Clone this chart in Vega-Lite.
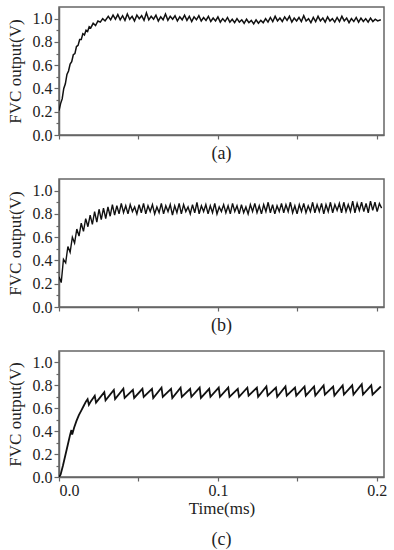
{
"$schema": "https://vega.github.io/schema/vega-lite/v6.json",
"padding": {"top": 6, "left": 5, "right": 5, "bottom": 0},
"spacing": 14,
"datasets": {
"a": [
{"t":0.0000,"v":0.21},{"t":0.0010,"v":0.27},{"t":0.0020,"v":0.31},{"t":0.0030,"v":0.40},{"t":0.0040,"v":0.44},{"t":0.0050,"v":0.52},{"t":0.0060,"v":0.55},{"t":0.0070,"v":0.61},{"t":0.0080,"v":0.63},{"t":0.0090,"v":0.69},{"t":0.0100,"v":0.70},{"t":0.0110,"v":0.76},{"t":0.0120,"v":0.77},{"t":0.0130,"v":0.82},{"t":0.0140,"v":0.82},{"t":0.0150,"v":0.87},{"t":0.0160,"v":0.86},{"t":0.0170,"v":0.90},{"t":0.0180,"v":0.89},{"t":0.0190,"v":0.93},{"t":0.0200,"v":0.92},{"t":0.0215,"v":0.96},{"t":0.0230,"v":0.94},{"t":0.0245,"v":0.98},{"t":0.0260,"v":0.97},{"t":0.0275,"v":1.0},{"t":0.0290,"v":0.98},
{"t":0.0310,"v":1.02},{"t":0.0325,"v":0.99},{"t":0.0340,"v":1.03},{"t":0.0355,"v":0.995},{"t":0.0370,"v":1.035},{"t":0.0385,"v":0.99},{"t":0.0400,"v":1.025},{"t":0.0415,"v":0.985},{"t":0.0430,"v":1.04},{"t":0.0445,"v":0.995},{"t":0.0460,"v":1.02},{"t":0.0475,"v":0.98},{"t":0.0490,"v":1.03},{"t":0.0505,"v":1.0},{"t":0.0520,"v":1.025},{"t":0.0535,"v":0.985},{"t":0.0550,"v":1.05},{"t":0.0565,"v":0.99},{"t":0.0580,"v":1.02},{"t":0.0595,"v":0.995},{"t":0.0610,"v":1.03},{"t":0.0625,"v":0.98},{"t":0.0640,"v":1.015},{"t":0.0655,"v":0.99},{"t":0.0670,"v":1.04},{"t":0.0685,"v":0.985},{"t":0.0700,"v":1.02},{"t":0.0715,"v":0.995},{"t":0.0730,"v":1.025},{"t":0.0745,"v":0.98},{"t":0.0760,"v":1.015},{"t":0.0775,"v":0.99},{"t":0.0790,"v":1.03},{"t":0.0805,"v":0.985},{"t":0.0820,"v":1.02},{"t":0.0835,"v":0.975},{"t":0.0850,"v":1.015},{"t":0.0865,"v":0.99},{"t":0.0880,"v":1.025},{"t":0.0895,"v":0.98},{"t":0.0910,"v":1.01},{"t":0.0925,"v":0.985},{"t":0.0940,"v":1.02},{"t":0.0955,"v":0.975},{"t":0.0970,"v":1.005},{"t":0.0985,"v":0.98},{"t":0.1000,"v":1.015},{"t":0.1015,"v":0.97},{"t":0.1030,"v":1.0},{"t":0.1045,"v":0.975},{"t":0.1060,"v":1.01},{"t":0.1075,"v":0.97},{"t":0.1090,"v":0.995},{"t":0.1105,"v":0.965},{"t":0.1120,"v":1.0},{"t":0.1135,"v":0.97},{"t":0.1150,"v":0.99},{"t":0.1165,"v":0.96},{"t":0.1180,"v":0.995},{"t":0.1195,"v":0.965},{"t":0.1210,"v":0.985},{"t":0.1225,"v":0.955},{"t":0.1240,"v":0.99},{"t":0.1255,"v":0.96},{"t":0.1270,"v":0.985},{"t":0.1285,"v":0.965},{"t":0.1300,"v":1.0},{"t":0.1315,"v":0.97},{"t":0.1330,"v":1.01},{"t":0.1345,"v":0.975},{"t":0.1360,"v":1.02},{"t":0.1375,"v":0.98},{"t":0.1390,"v":1.005},{"t":0.1405,"v":0.975},{"t":0.1420,"v":1.015},{"t":0.1435,"v":0.985},{"t":0.1450,"v":1.02},{"t":0.1465,"v":0.97},{"t":0.1480,"v":1.005},{"t":0.1495,"v":0.98},{"t":0.1510,"v":1.01},{"t":0.1525,"v":0.975},{"t":0.1540,"v":1.025},{"t":0.1555,"v":0.98},{"t":0.1570,"v":1.0},{"t":0.1585,"v":0.965},{"t":0.1600,"v":1.01},{"t":0.1615,"v":0.975},{"t":0.1630,"v":1.02},{"t":0.1645,"v":0.98},{"t":0.1660,"v":1.005},{"t":0.1675,"v":0.97},{"t":0.1690,"v":1.015},{"t":0.1705,"v":0.98},{"t":0.1720,"v":1.0},{"t":0.1735,"v":0.97},{"t":0.1750,"v":1.01},{"t":0.1765,"v":0.975},{"t":0.1780,"v":1.02},{"t":0.1795,"v":0.98},{"t":0.1810,"v":1.005},{"t":0.1825,"v":0.965},{"t":0.1840,"v":1.0},{"t":0.1855,"v":0.975},{"t":0.1870,"v":1.01},{"t":0.1885,"v":0.97},{"t":0.1900,"v":1.005},{"t":0.1915,"v":0.975},{"t":0.1930,"v":1.0},{"t":0.1945,"v":0.97},{"t":0.1960,"v":1.005},{"t":0.1975,"v":0.975},{"t":0.1990,"v":0.995},{"t":0.2005,"v":0.98},{"t":0.2025,"v":0.99}
],
"b": [
{"t":0.0000,"v":0.26},{"t":0.0014,"v":0.21},{"t":0.0028,"v":0.41},{"t":0.0042,"v":0.38},{"t":0.0056,"v":0.52},{"t":0.0070,"v":0.47},{"t":0.0084,"v":0.60},{"t":0.0098,"v":0.55},{"t":0.0112,"v":0.67},{"t":0.0126,"v":0.61},{"t":0.0140,"v":0.72},{"t":0.0154,"v":0.65},{"t":0.0168,"v":0.76},{"t":0.0182,"v":0.69},{"t":0.0196,"v":0.79},{"t":0.0210,"v":0.71},{"t":0.0224,"v":0.82},{"t":0.0238,"v":0.73},{"t":0.0252,"v":0.84},{"t":0.0266,"v":0.75},{"t":0.0280,"v":0.85},{"t":0.0294,"v":0.76},{"t":0.0308,"v":0.86},{"t":0.0322,"v":0.78},{"t":0.0336,"v":0.88},{"t":0.0350,"v":0.79},
{"t":0.0364,"v":0.87},{"t":0.0378,"v":0.80},{"t":0.0392,"v":0.89},{"t":0.0406,"v":0.81},{"t":0.0420,"v":0.87},{"t":0.0434,"v":0.80},{"t":0.0448,"v":0.88},{"t":0.0462,"v":0.82},{"t":0.0476,"v":0.86},{"t":0.0490,"v":0.80},{"t":0.0504,"v":0.88},{"t":0.0518,"v":0.81},{"t":0.0532,"v":0.89},{"t":0.0546,"v":0.80},{"t":0.0560,"v":0.87},{"t":0.0574,"v":0.82},{"t":0.0588,"v":0.88},{"t":0.0602,"v":0.80},{"t":0.0616,"v":0.86},{"t":0.0630,"v":0.81},{"t":0.0644,"v":0.89},{"t":0.0658,"v":0.80},{"t":0.0672,"v":0.87},{"t":0.0686,"v":0.82},{"t":0.0700,"v":0.88},{"t":0.0714,"v":0.79},{"t":0.0728,"v":0.87},{"t":0.0742,"v":0.81},{"t":0.0756,"v":0.89},{"t":0.0770,"v":0.80},{"t":0.0784,"v":0.88},{"t":0.0798,"v":0.82},{"t":0.0812,"v":0.86},{"t":0.0826,"v":0.80},{"t":0.0840,"v":0.88},{"t":0.0854,"v":0.81},{"t":0.0868,"v":0.90},{"t":0.0882,"v":0.80},{"t":0.0896,"v":0.87},{"t":0.0910,"v":0.82},{"t":0.0924,"v":0.88},{"t":0.0938,"v":0.80},{"t":0.0952,"v":0.87},{"t":0.0966,"v":0.81},{"t":0.0980,"v":0.89},{"t":0.0994,"v":0.80},{"t":0.1008,"v":0.86},{"t":0.1022,"v":0.82},{"t":0.1036,"v":0.88},{"t":0.1050,"v":0.81},{"t":0.1064,"v":0.87},{"t":0.1078,"v":0.80},{"t":0.1092,"v":0.89},{"t":0.1106,"v":0.82},{"t":0.1120,"v":0.87},{"t":0.1134,"v":0.80},{"t":0.1148,"v":0.88},{"t":0.1162,"v":0.81},{"t":0.1176,"v":0.86},{"t":0.1190,"v":0.80},{"t":0.1204,"v":0.88},{"t":0.1218,"v":0.82},{"t":0.1232,"v":0.89},{"t":0.1246,"v":0.81},{"t":0.1260,"v":0.87},{"t":0.1274,"v":0.80},{"t":0.1288,"v":0.88},{"t":0.1302,"v":0.82},{"t":0.1316,"v":0.90},{"t":0.1330,"v":0.81},{"t":0.1344,"v":0.88},{"t":0.1358,"v":0.80},{"t":0.1372,"v":0.87},{"t":0.1386,"v":0.82},{"t":0.1400,"v":0.89},{"t":0.1414,"v":0.81},{"t":0.1428,"v":0.88},{"t":0.1442,"v":0.82},{"t":0.1456,"v":0.90},{"t":0.1470,"v":0.81},{"t":0.1484,"v":0.87},{"t":0.1498,"v":0.80},{"t":0.1512,"v":0.88},{"t":0.1526,"v":0.82},{"t":0.1540,"v":0.89},{"t":0.1554,"v":0.81},{"t":0.1568,"v":0.87},{"t":0.1582,"v":0.82},{"t":0.1596,"v":0.90},{"t":0.1610,"v":0.81},{"t":0.1624,"v":0.88},{"t":0.1638,"v":0.82},{"t":0.1652,"v":0.89},{"t":0.1666,"v":0.80},{"t":0.1680,"v":0.88},{"t":0.1694,"v":0.82},{"t":0.1708,"v":0.90},{"t":0.1722,"v":0.81},{"t":0.1736,"v":0.88},{"t":0.1750,"v":0.83},{"t":0.1764,"v":0.89},{"t":0.1778,"v":0.81},{"t":0.1792,"v":0.90},{"t":0.1806,"v":0.82},{"t":0.1820,"v":0.88},{"t":0.1834,"v":0.82},{"t":0.1848,"v":0.91},{"t":0.1862,"v":0.81},{"t":0.1876,"v":0.89},{"t":0.1890,"v":0.83},{"t":0.1904,"v":0.90},{"t":0.1918,"v":0.82},{"t":0.1932,"v":0.89},{"t":0.1946,"v":0.81},{"t":0.1960,"v":0.91},{"t":0.1974,"v":0.83},{"t":0.1988,"v":0.90},{"t":0.2002,"v":0.82},{"t":0.2016,"v":0.89},{"t":0.2030,"v":0.85}
],
"c": [
{"t":0.0000,"v":0.00},{"t":0.0010,"v":0.02},{"t":0.0025,"v":0.10},{"t":0.0040,"v":0.19},{"t":0.0055,"v":0.28},{"t":0.0070,"v":0.37},{"t":0.0078,"v":0.41},{"t":0.0083,"v":0.37},{"t":0.0095,"v":0.43},{"t":0.0110,"v":0.49},{"t":0.0125,"v":0.54},{"t":0.0140,"v":0.58},{"t":0.0155,"v":0.62},{"t":0.0170,"v":0.66},{"t":0.0180,"v":0.68},{"t":0.0188,"v":0.63},{"t":0.0200,"v":0.66},
{"t":0.0225,"v":0.71},{"t":0.0233,"v":0.65},{"t":0.0285,"v":0.74},{"t":0.0293,"v":0.67},{"t":0.0345,"v":0.76},{"t":0.0353,"v":0.68},{"t":0.0405,"v":0.77},{"t":0.0413,"v":0.69},{"t":0.0465,"v":0.76},{"t":0.0473,"v":0.69},{"t":0.0525,"v":0.77},{"t":0.0533,"v":0.70},{"t":0.0585,"v":0.77},{"t":0.0593,"v":0.69},{"t":0.0645,"v":0.78},{"t":0.0653,"v":0.70},{"t":0.0705,"v":0.77},{"t":0.0713,"v":0.69},{"t":0.0765,"v":0.78},{"t":0.0773,"v":0.70},{"t":0.0825,"v":0.77},{"t":0.0833,"v":0.70},{"t":0.0885,"v":0.78},{"t":0.0893,"v":0.69},{"t":0.0945,"v":0.77},{"t":0.0953,"v":0.70},{"t":0.1005,"v":0.78},{"t":0.1013,"v":0.70},{"t":0.1065,"v":0.78},{"t":0.1073,"v":0.70},{"t":0.1125,"v":0.77},{"t":0.1133,"v":0.70},{"t":0.1185,"v":0.78},{"t":0.1193,"v":0.71},{"t":0.1245,"v":0.78},{"t":0.1253,"v":0.70},{"t":0.1305,"v":0.79},{"t":0.1313,"v":0.71},{"t":0.1365,"v":0.78},{"t":0.1373,"v":0.70},{"t":0.1425,"v":0.79},{"t":0.1433,"v":0.71},{"t":0.1485,"v":0.78},{"t":0.1493,"v":0.71},{"t":0.1545,"v":0.79},{"t":0.1553,"v":0.71},{"t":0.1605,"v":0.79},{"t":0.1613,"v":0.71},{"t":0.1665,"v":0.80},{"t":0.1673,"v":0.72},{"t":0.1725,"v":0.79},{"t":0.1733,"v":0.71},{"t":0.1785,"v":0.80},{"t":0.1793,"v":0.72},{"t":0.1845,"v":0.80},{"t":0.1853,"v":0.72},{"t":0.1905,"v":0.81},{"t":0.1913,"v":0.72},{"t":0.1965,"v":0.80},{"t":0.1973,"v":0.72},{"t":0.2025,"v":0.79}
]
},
"vconcat": [
{
"data": {"name": "a"},
"width": 325, "height": 128,
"title": {"text": "(a)", "orient": "bottom", "offset": 2},
"mark": {"type": "line", "color": "#111", "strokeWidth": 1.5, "clip": true},
"encoding": {
"x": {"field": "t", "type": "quantitative", "scale": {"domain": [0, 0.2045], "nice": false}, "axis": {"values": [0, 0.05, 0.1, 0.15, 0.2], "labels": false, "title": null}},
"y": {"field": "v", "type": "quantitative", "scale": {"domain": [0, 1.1], "nice": false}, "axis": {"title": "FVC output(V)", "values": [0, 0.1, 0.2, 0.3, 0.4, 0.5, 0.6, 0.7, 0.8, 0.9, 1.0], "labelExpr": "round(datum.value*10) % 2 == 0 ? format(datum.value, '.1f') : ''", "tickSize": {"condition": {"test": "round(datum.value*10) % 2 == 0", "value": 5}, "value": 3}}}
}
},
{
"data": {"name": "b"},
"width": 325, "height": 128,
"title": {"text": "(b)", "orient": "bottom", "offset": 2},
"mark": {"type": "line", "color": "#111", "strokeWidth": 1.4, "clip": true},
"encoding": {
"x": {"field": "t", "type": "quantitative", "scale": {"domain": [0, 0.2045], "nice": false}, "axis": {"values": [0, 0.05, 0.1, 0.15, 0.2], "labels": false, "title": null}},
"y": {"field": "v", "type": "quantitative", "scale": {"domain": [0, 1.1], "nice": false}, "axis": {"title": "FVC output(V)", "values": [0, 0.1, 0.2, 0.3, 0.4, 0.5, 0.6, 0.7, 0.8, 0.9, 1.0], "labelExpr": "round(datum.value*10) % 2 == 0 ? format(datum.value, '.1f') : ''", "tickSize": {"condition": {"test": "round(datum.value*10) % 2 == 0", "value": 5}, "value": 3}}}
}
},
{
"data": {"name": "c"},
"width": 325, "height": 126,
"title": {"text": "(c)", "orient": "bottom", "offset": 15},
"mark": {"type": "line", "color": "#111", "strokeWidth": 1.8, "clip": true},
"encoding": {
"x": {"field": "t", "type": "quantitative", "scale": {"domain": [0, 0.2045], "nice": false}, "axis": {"values": [0, 0.05, 0.1, 0.15, 0.2], "labelExpr": "(datum.value == 0.05 || datum.value == 0.15) ? '' : format(datum.value, '.1f')", "labelPadding": 1, "title": "Time(ms)", "titlePadding": 2}},
"y": {"field": "v", "type": "quantitative", "scale": {"domain": [0, 1.1], "nice": false}, "axis": {"title": "FVC output(V)", "values": [0, 0.1, 0.2, 0.3, 0.4, 0.5, 0.6, 0.7, 0.8, 0.9, 1.0], "labelExpr": "round(datum.value*10) % 2 == 0 ? format(datum.value, '.1f') : ''", "tickSize": {"condition": {"test": "round(datum.value*10) % 2 == 0", "value": 5}, "value": 3}}}
}
}
],
"config": {
"view": {"stroke": "#666", "strokeWidth": 1.5},
"axis": {"grid": false, "domainColor": "#666", "domainWidth": 1.5, "tickColor": "#666", "tickWidth": 1.2, "tickSize": 4, "labelFont": "Liberation Serif", "labelFontSize": 16, "labelColor": "#222", "labelPadding": 2, "titleFont": "Liberation Serif", "titleFontSize": 17, "titleFontWeight": "normal", "titleColor": "#222", "titlePadding": 8},
"title": {"font": "Liberation Serif", "fontSize": 18, "fontWeight": "normal", "color": "#222"}
}
}
